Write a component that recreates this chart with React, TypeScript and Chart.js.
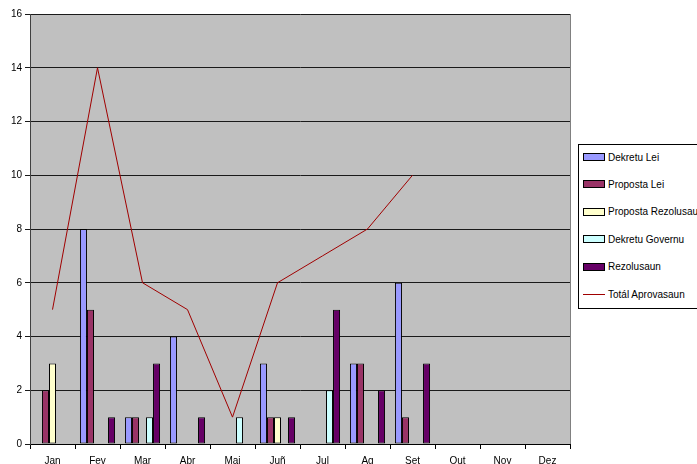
import React, { useEffect, useRef } from "react";
import { Chart, registerables } from "chart.js";

Chart.register(...registerables);

const months = ["Jan", "Fev", "Mar", "Abr", "Mai", "Juñ", "Jul", "Ag", "Set", "Out", "Nov", "Dez"];
const dekretuLei = [0, 8, 1, 4, 0, 3, 0, 3, 6, 0, 0, 0];
const propostaLei = [2, 5, 1, 0, 0, 1, 0, 3, 1, 0, 0, 0];
const propostaRezolusau = [3, 0, 0, 0, 0, 1, 0, 0, 0, 0, 0, 0];
const dekretuGovernu = [0, 0, 1, 0, 1, 0, 2, 0, 0, 0, 0, 0];
const rezolusaun = [0, 1, 3, 1, 0, 1, 5, 2, 3, 0, 0, 0];
const totalAprovasaun: (number | null)[] = [5, 14, 6, 5, 1, 6, 7, 8, 10, null, null, null];
const yTicks = [0, 2, 4, 6, 8, 10, 12, 14, 16];

const barSeries = [
  { label: "Dekretu Lei", data: dekretuLei, color: "#9999ff" },
  { label: "Proposta Lei", data: propostaLei, color: "#993366" },
  { label: "Proposta Rezolusau", data: propostaRezolusau, color: "#ffffcc" },
  { label: "Dekretu Governu", data: dekretuGovernu, color: "#ccffff" },
  { label: "Rezolusaun", data: rezolusaun, color: "#660066" },
];
const lineSeries = { label: "Totál Aprovasaun", data: totalAprovasaun, color: "#a00000" };

const FONT = "'Liberation Sans', Arial, sans-serif";

const bgPlugin = {
  id: "plotBg",
  beforeDraw(chart: any) {
    const { ctx, chartArea } = chart;
    ctx.save();
    ctx.fillStyle = "#c0c0c0";
    ctx.fillRect(chartArea.left, chartArea.top, chartArea.right - chartArea.left, chartArea.bottom - chartArea.top);
    ctx.strokeStyle = "#808080";
    ctx.lineWidth = 1;
    ctx.beginPath();
    ctx.moveTo(Math.round(chartArea.right) + 0.5, chartArea.top);
    ctx.lineTo(Math.round(chartArea.right) + 0.5, chartArea.bottom);
    ctx.stroke();
    ctx.restore();
  },
};

export default function App() {
  const ref = useRef<HTMLCanvasElement>(null);
  useEffect(() => {
    document.body.style.margin = "0";
    const datasets: any[] = barSeries.map((s) => ({
      type: "bar",
      label: s.label,
      data: s.data.map((v) => (v ? v : null)),
      backgroundColor: s.color,
      borderColor: "#000000",
      borderWidth: 1,
      borderSkipped: false,
      categoryPercentage: 0.78,
      barPercentage: 1.0,
      order: 1,
    }));
    datasets.push({
      type: "line",
      label: lineSeries.label,
      data: lineSeries.data,
      borderColor: lineSeries.color,
      backgroundColor: lineSeries.color,
      borderWidth: 1,
      pointRadius: 0,
      tension: 0,
      spanGaps: false,
      order: 0,
    });
    const chart = new Chart(ref.current!, {
      type: "bar",
      data: { labels: months, datasets },
      plugins: [bgPlugin],
      options: {
        responsive: false,
        animation: false,
        layout: { padding: { top: 14, right: 127, left: 0, bottom: 0 } },
        plugins: { legend: { display: false }, tooltip: { enabled: false } },
        scales: {
          x: {
            offset: true,
            grid: { offset: true, drawOnChartArea: false, drawTicks: true, tickLength: 5, color: "#000000" },
            border: { color: "#000000", width: 1 },
            ticks: { color: "#000000", font: { family: FONT, size: 10 }, padding: 6, maxRotation: 0, autoSkip: false },
            afterFit: (s: any) => { s.height = 20; },
          },
          y: {
            min: 0,
            max: 16,
            afterBuildTicks: (s: any) => { s.ticks = yTicks.map((v) => ({ value: v })); },
            grid: { color: "#1a1a1a", lineWidth: 1, drawTicks: true, tickLength: 5 },
            border: { color: "#404040", width: 1 },
            ticks: { color: "#000000", font: { family: FONT, size: 10 }, padding: 3 },
            afterFit: (s: any) => { s.width = 30; },
          },
        },
      },
    });
    return () => chart.destroy();
  }, []);

  const legendItems = [...barSeries.map((s) => ({ label: s.label, color: s.color, line: false })), { label: lineSeries.label, color: lineSeries.color, line: true }];

  return (
    <div style={{ position: "absolute", left: 0, top: 0, width: 697, height: 464, background: "#ffffff", overflow: "hidden" }}>
      <canvas ref={ref} width={697} height={464} style={{ position: "absolute", left: 0, top: 0, width: 697, height: 464 }} />
      <div
        style={{
          position: "absolute",
          left: 578,
          top: 144,
          width: 130,
          height: 165,
          border: "1px solid #000",
          background: "#fff",
          boxSizing: "border-box",
          fontFamily: FONT,
          fontSize: 10,
          color: "#000",
        }}
      >
        {legendItems.map((it, i) => (
          <div key={it.label} style={{ position: "absolute", left: 4, top: 6 + i * 27.4, height: 12, display: "flex", alignItems: "center", whiteSpace: "nowrap" }}>
            {it.line ? (
              <div style={{ width: 22, height: 0, borderTop: `1px solid ${it.color}` }} />
            ) : (
              <div style={{ width: 20, height: 6, background: it.color, border: "1px solid #000" }} />
            )}
            <span style={{ marginLeft: 3 }}>{it.label}</span>
          </div>
        ))}
      </div>
    </div>
  );
}
